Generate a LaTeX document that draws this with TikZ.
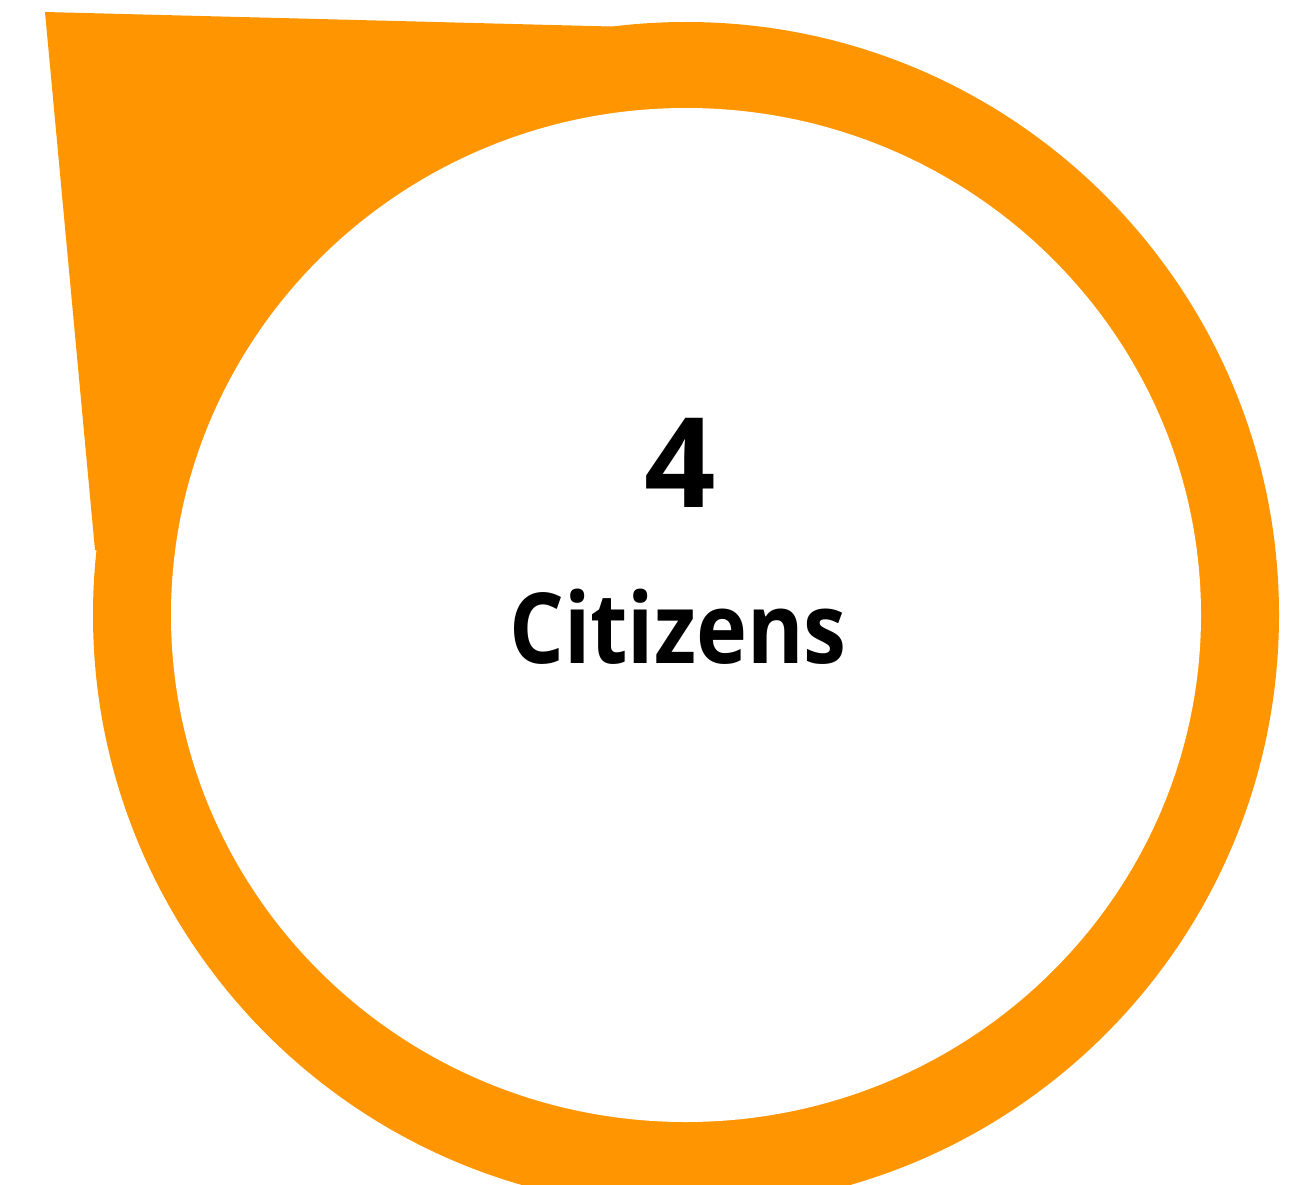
\documentclass[tikz,border=0pt]{standalone}
\usepackage{fontspec}
\setmainfont{Open Sans}
\newfontfamily\labelfont[FakeStretch=0.88]{Open Sans}
\definecolor{ringorange}{RGB}{255,149,0}
\begin{document}
\begin{tikzpicture}[x=1pt,y=-1pt,
  ring/.style={fill=ringorange},
  hole/.style={fill=white},
  bignum/.style={font=\fontsize{125}{130}\selectfont\bfseries, inner sep=0pt},
  biglabel/.style={font=\labelfont\fontsize{98}{110}\selectfont\bfseries, inner sep=0pt}]
\useasboundingbox (0,0) rectangle (1307,1185);
\begin{scope}
\clip (0,0) rectangle (1307,1185);
\coordinate (c) at (686,615);
\coordinate (tip) at (45,12);
\coordinate (top) at (630,27);
\coordinate (left) at (95,550);
\fill[ring] (c) circle (593);
\fill[ring] (tip) -- (top) -- (c) -- (left) -- cycle;
\fill[hole] (c) ellipse [x radius=515, y radius=507];
\end{scope}
\node[bignum, anchor=base] (num) at (680,507) {4};
\node[biglabel, anchor=base] (lab) at (678,663) {Citizens};
\end{tikzpicture}
\end{document}
